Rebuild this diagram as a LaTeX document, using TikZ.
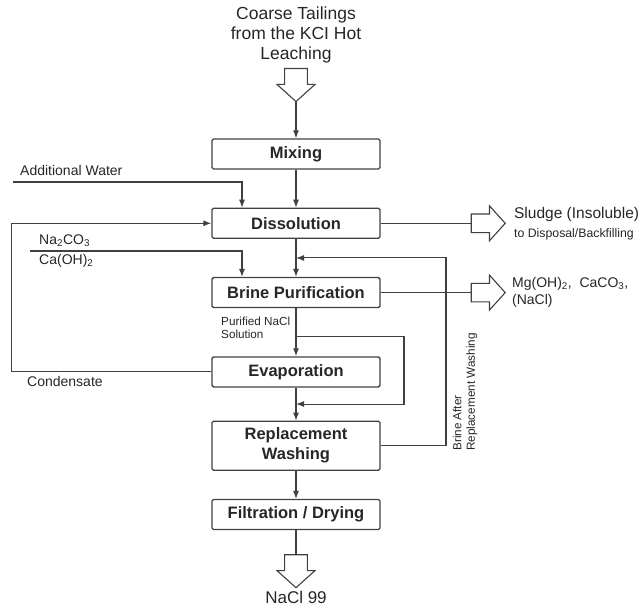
\documentclass[tikz,border=0pt]{standalone}
\usepackage{fontspec}
\setmainfont{Liberation Sans}
\usetikzlibrary{positioning, arrows.meta, shapes.arrows, calc}

\begin{document}
\begin{tikzpicture}[x=1pt, y=1pt, >={Latex[length=8pt,width=6pt]}, font=\fontsize{14}{17}\selectfont, text=black!85,
	process/.style={draw=black!75, line width=1.3pt, rounded corners=1.5pt, minimum height=30pt, minimum width=168pt, align=center, inner sep=0pt, font=\fontsize{16.5}{20}\selectfont\bfseries},
	bigarrow/.style={single arrow, draw=black!75, line width=1.1pt, fill=white, inner xsep=0pt, inner ysep=10pt, minimum width=38pt, minimum height=33pt, single arrow tip angle=96},
	downarrow/.style={bigarrow, rotate=-90},
	sidearrow/.style={bigarrow, inner ysep=7.5pt, minimum width=35pt, minimum height=34pt},
	label/.style={inner sep=0pt, anchor=west},
	smalltext/.style={font=\fontsize{11.7}{13.5}\selectfont},
	flow/.style={->, draw=black!75, line width=1.1pt},
	line/.style={draw=black!75, line width=1.1pt}]

	\useasboundingbox (0,0) rectangle (642,-609);

	% Zulauf und Prozesskette
	\node[align=center, font=\fontsize{17.5}{20}\selectfont] (feed) at (296,-35) {Coarse Tailings\\from the KCI Hot\\Leaching};
	\node[downarrow, anchor=tail] (feedarrow) at (296,-68) {};

	\node[process] (mixing) at (296,-154) {Mixing};
	\node[process, below=38pt of mixing] (dissolution) {Dissolution};
	\node[process, below=38pt of dissolution] (brine) {Brine Purification};
	\node[process, below=48pt of brine] (evaporation) {Evaporation};
	\node[process, below=33pt of evaporation, minimum height=49pt] (washing) {Replacement\\Washing};
	\node[process, below=28pt of washing] (filtration) {Filtration / Drying};

	\node[downarrow, anchor=tail] (productarrow) at ([yshift=-24pt]filtration.south) {};
	\node[font=\fontsize{17}{20}\selectfont, inner sep=0pt, below=3pt of productarrow.tip] (product) {NaCl 99};

	\draw[flow] (feedarrow.tip) -- (mixing);
	\draw[flow] (mixing) -- (dissolution);
	\draw[flow] (dissolution) -- (brine);
	\draw[flow] (brine) -- (evaporation);
	\draw[flow] (evaporation) -- (washing);
	\draw[flow] (washing) -- (filtration);
	\draw[line] (filtration) -- (productarrow.tail);

	% Zugaben von links
	\node[label] (water) at (20,-170) {Additional Water};
	\coordinate (waterin) at (13,-182);
	\draw[flow] (waterin) -| ([xshift=-54pt]dissolution.north);

	\node[label] (soda) at (39,-241) {Na\textsubscript{2}CO\textsubscript{3}};
	\node[label] (lime) at (39,-261) {Ca(OH)\textsubscript{2}};
	\coordinate (reagentin) at (30,-251);
	\draw[flow] (reagentin) -| ([xshift=-54pt]brine.north);

	% Kondensat zurueck
	\draw[flow] (evaporation.west) -- ++(-200,0) |- (dissolution.west);
	\node[label] (condensate) at (27,-381) {Condensate};

	% Reststoffe nach rechts
	\node[sidearrow, anchor=tail] (sludgearrow) at ([xshift=90pt]dissolution.east) {};
	\draw[line] (dissolution) -- (sludgearrow.tail);
	\node[label, font=\fontsize{15.5}{18}\selectfont] (sludge) at ([xshift=8pt,yshift=9pt]sludgearrow.tip) {Sludge (Insoluble)};
	\node[label, font=\fontsize{12.3}{14}\selectfont] (disposal) at ([xshift=8pt,yshift=-11pt]sludgearrow.tip) {to Disposal/Backfilling};

	\node[sidearrow, anchor=tail] (residuearrow) at ([xshift=90pt]brine.east) {};
	\draw[line] (brine) -- (residuearrow.tail);
	\node[label, align=left] (residue) at ([xshift=6pt]residuearrow.tip) {Mg(OH)\textsubscript{2}, ~CaCO\textsubscript{3},\\(NaCl)};

	% Bypass und Rueckfuehrung
	\node[label, smalltext, align=left] (purified) at (221,-328) {Purified NaCl\\Solution};
	\draw[flow] ([yshift=-28pt]brine.south) -- ++(108,0) |- ($(evaporation.south)!.5!(washing.north)$);

	\draw[flow] (washing) -- ++(150,0) |- ($(dissolution.south)!.5!(brine.north)$);
	\node[smalltext, rotate=90, align=left, inner sep=0pt] (brineafter) at (465,-392) {Brine After\\Replacement Washing};
\end{tikzpicture}
\end{document}
